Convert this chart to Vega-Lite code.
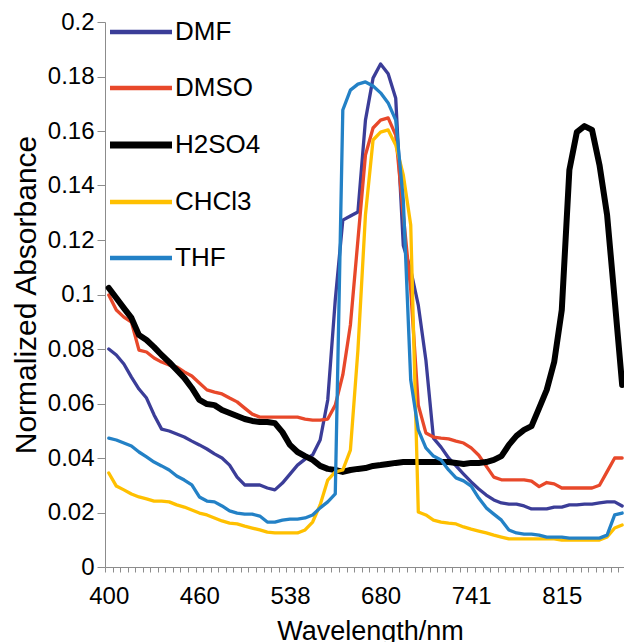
{
  "$schema": "https://vega.github.io/schema/vega-lite/v6.json",
  "width": 519,
  "height": 545,
  "autosize": {"type": "none"},
  "padding": {"left": 105, "top": 22, "right": 0, "bottom": 75},
  "config": {"view": {"stroke": null}, "font": "Liberation Sans"},
  "data": {"values": [
    {"nm": 400, "DMF": 0.080, "DMSO": 0.0998, "H2SO4": 0.1024, "CHCl3": 0.0345, "THF": 0.0473},
    {"nm": 405, "DMF": 0.0778, "DMSO": 0.0943, "H2SO4": 0.0987, "CHCl3": 0.0297, "THF": 0.0466},
    {"nm": 410, "DMF": 0.0745, "DMSO": 0.0917, "H2SO4": 0.095, "CHCl3": 0.0283, "THF": 0.0455},
    {"nm": 415, "DMF": 0.0697, "DMSO": 0.0899, "H2SO4": 0.0914, "CHCl3": 0.0268, "THF": 0.0444},
    {"nm": 420, "DMF": 0.0653, "DMSO": 0.0796, "H2SO4": 0.0851, "CHCl3": 0.0257, "THF": 0.0422},
    {"nm": 425, "DMF": 0.062, "DMSO": 0.0789, "H2SO4": 0.0833, "CHCl3": 0.025, "THF": 0.0404},
    {"nm": 430, "DMF": 0.0558, "DMSO": 0.0767, "H2SO4": 0.0807, "CHCl3": 0.0242, "THF": 0.0385},
    {"nm": 435, "DMF": 0.0506, "DMSO": 0.0752, "H2SO4": 0.0778, "CHCl3": 0.0242, "THF": 0.0371},
    {"nm": 440, "DMF": 0.0499, "DMSO": 0.0741, "H2SO4": 0.0752, "CHCl3": 0.0239, "THF": 0.0356},
    {"nm": 445, "DMF": 0.0488, "DMSO": 0.0734, "H2SO4": 0.0723, "CHCl3": 0.0228, "THF": 0.0334},
    {"nm": 450, "DMF": 0.0477, "DMSO": 0.0716, "H2SO4": 0.0694, "CHCl3": 0.022, "THF": 0.0319},
    {"nm": 455, "DMF": 0.0462, "DMSO": 0.0701, "H2SO4": 0.0657, "CHCl3": 0.0209, "THF": 0.0301},
    {"nm": 460, "DMF": 0.0448, "DMSO": 0.0675, "H2SO4": 0.0613, "CHCl3": 0.0198, "THF": 0.0257},
    {"nm": 466.5, "DMF": 0.0433, "DMSO": 0.065, "H2SO4": 0.0598, "CHCl3": 0.0191, "THF": 0.0242},
    {"nm": 473, "DMF": 0.0415, "DMSO": 0.0642, "H2SO4": 0.0594, "CHCl3": 0.018, "THF": 0.0239},
    {"nm": 479.5, "DMF": 0.04, "DMSO": 0.0635, "H2SO4": 0.0576, "CHCl3": 0.0169, "THF": 0.0224},
    {"nm": 486, "DMF": 0.0374, "DMSO": 0.062, "H2SO4": 0.0565, "CHCl3": 0.0161, "THF": 0.0206},
    {"nm": 492.5, "DMF": 0.033, "DMSO": 0.0606, "H2SO4": 0.0554, "CHCl3": 0.0158, "THF": 0.0198},
    {"nm": 499, "DMF": 0.0301, "DMSO": 0.0583, "H2SO4": 0.0543, "CHCl3": 0.015, "THF": 0.0194},
    {"nm": 505.5, "DMF": 0.0301, "DMSO": 0.0561, "H2SO4": 0.0536, "CHCl3": 0.0143, "THF": 0.0194},
    {"nm": 512, "DMF": 0.0301, "DMSO": 0.055, "H2SO4": 0.0532, "CHCl3": 0.0136, "THF": 0.0187},
    {"nm": 518.5, "DMF": 0.029, "DMSO": 0.055, "H2SO4": 0.0532, "CHCl3": 0.0128, "THF": 0.0165},
    {"nm": 525, "DMF": 0.0283, "DMSO": 0.055, "H2SO4": 0.0528, "CHCl3": 0.0125, "THF": 0.0165},
    {"nm": 531.5, "DMF": 0.0308, "DMSO": 0.055, "H2SO4": 0.0495, "CHCl3": 0.0125, "THF": 0.0172},
    {"nm": 538, "DMF": 0.0341, "DMSO": 0.055, "H2SO4": 0.0448, "CHCl3": 0.0125, "THF": 0.0176},
    {"nm": 549.8, "DMF": 0.0374, "DMSO": 0.055, "H2SO4": 0.0422, "CHCl3": 0.0125, "THF": 0.0176},
    {"nm": 561.7, "DMF": 0.0396, "DMSO": 0.0543, "H2SO4": 0.0407, "CHCl3": 0.0136, "THF": 0.018},
    {"nm": 573.5, "DMF": 0.0411, "DMSO": 0.0539, "H2SO4": 0.0393, "CHCl3": 0.0165, "THF": 0.0191},
    {"nm": 585.3, "DMF": 0.0466, "DMSO": 0.0539, "H2SO4": 0.0371, "CHCl3": 0.0228, "THF": 0.0217},
    {"nm": 597.2, "DMF": 0.0613, "DMSO": 0.0543, "H2SO4": 0.036, "CHCl3": 0.0319, "THF": 0.0239},
    {"nm": 609, "DMF": 0.098, "DMSO": 0.0594, "H2SO4": 0.0356, "CHCl3": 0.0349, "THF": 0.0268},
    {"nm": 620.8, "DMF": 0.1273, "DMSO": 0.0705, "H2SO4": 0.0349, "CHCl3": 0.0356, "THF": 0.1677},
    {"nm": 632.7, "DMF": 0.1288, "DMSO": 0.0888, "H2SO4": 0.0356, "CHCl3": 0.0429, "THF": 0.175},
    {"nm": 644.5, "DMF": 0.1303, "DMSO": 0.12, "H2SO4": 0.036, "CHCl3": 0.0796, "THF": 0.1772},
    {"nm": 656.3, "DMF": 0.164, "DMSO": 0.1512, "H2SO4": 0.0363, "CHCl3": 0.1292, "THF": 0.178},
    {"nm": 668.2, "DMF": 0.1794, "DMSO": 0.1611, "H2SO4": 0.0371, "CHCl3": 0.1567, "THF": 0.1765},
    {"nm": 680, "DMF": 0.1846, "DMSO": 0.164, "H2SO4": 0.0374, "CHCl3": 0.1596, "THF": 0.174},
    {"nm": 685.1, "DMF": 0.181, "DMSO": 0.1648, "H2SO4": 0.0378, "CHCl3": 0.1604, "THF": 0.1703},
    {"nm": 690.2, "DMF": 0.172, "DMSO": 0.1585, "H2SO4": 0.0382, "CHCl3": 0.1549, "THF": 0.164},
    {"nm": 695.3, "DMF": 0.118, "DMSO": 0.1292, "H2SO4": 0.0385, "CHCl3": 0.1439, "THF": 0.1347},
    {"nm": 700.3, "DMF": 0.109, "DMSO": 0.1017, "H2SO4": 0.0385, "CHCl3": 0.1255, "THF": 0.0686},
    {"nm": 705.4, "DMF": 0.0961, "DMSO": 0.0594, "H2SO4": 0.0385, "CHCl3": 0.0202, "THF": 0.0503},
    {"nm": 710.5, "DMF": 0.076, "DMSO": 0.0492, "H2SO4": 0.0385, "CHCl3": 0.0191, "THF": 0.0437},
    {"nm": 715.6, "DMF": 0.0473, "DMSO": 0.0477, "H2SO4": 0.0385, "CHCl3": 0.0172, "THF": 0.0407},
    {"nm": 720.7, "DMF": 0.044, "DMSO": 0.0473, "H2SO4": 0.0385, "CHCl3": 0.0165, "THF": 0.0393},
    {"nm": 725.8, "DMF": 0.04, "DMSO": 0.047, "H2SO4": 0.0385, "CHCl3": 0.0161, "THF": 0.0356},
    {"nm": 730.8, "DMF": 0.0371, "DMSO": 0.0462, "H2SO4": 0.0382, "CHCl3": 0.0158, "THF": 0.0327},
    {"nm": 735.9, "DMF": 0.0341, "DMSO": 0.0455, "H2SO4": 0.0378, "CHCl3": 0.0147, "THF": 0.0316},
    {"nm": 741, "DMF": 0.0312, "DMSO": 0.0437, "H2SO4": 0.0382, "CHCl3": 0.0139, "THF": 0.0297},
    {"nm": 747.2, "DMF": 0.0286, "DMSO": 0.041, "H2SO4": 0.0382, "CHCl3": 0.0132, "THF": 0.0253},
    {"nm": 753.3, "DMF": 0.0264, "DMSO": 0.037, "H2SO4": 0.0385, "CHCl3": 0.0125, "THF": 0.0217},
    {"nm": 759.5, "DMF": 0.0246, "DMSO": 0.033, "H2SO4": 0.0393, "CHCl3": 0.0117, "THF": 0.0194},
    {"nm": 765.7, "DMF": 0.0235, "DMSO": 0.032, "H2SO4": 0.0407, "CHCl3": 0.011, "THF": 0.0172},
    {"nm": 771.8, "DMF": 0.0231, "DMSO": 0.032, "H2SO4": 0.0448, "CHCl3": 0.0103, "THF": 0.0136},
    {"nm": 778, "DMF": 0.0231, "DMSO": 0.032, "H2SO4": 0.0481, "CHCl3": 0.0103, "THF": 0.0125},
    {"nm": 784.2, "DMF": 0.0224, "DMSO": 0.032, "H2SO4": 0.0503, "CHCl3": 0.0103, "THF": 0.0121},
    {"nm": 790.3, "DMF": 0.0213, "DMSO": 0.0315, "H2SO4": 0.0517, "CHCl3": 0.0103, "THF": 0.0121},
    {"nm": 796.5, "DMF": 0.0213, "DMSO": 0.0295, "H2SO4": 0.0583, "CHCl3": 0.0103, "THF": 0.0117},
    {"nm": 802.7, "DMF": 0.0213, "DMSO": 0.031, "H2SO4": 0.065, "CHCl3": 0.0103, "THF": 0.011},
    {"nm": 808.8, "DMF": 0.022, "DMSO": 0.0305, "H2SO4": 0.0752, "CHCl3": 0.0103, "THF": 0.011},
    {"nm": 815, "DMF": 0.022, "DMSO": 0.029, "H2SO4": 0.0943, "CHCl3": 0.0099, "THF": 0.011},
    {"nm": 821.2, "DMF": 0.0228, "DMSO": 0.029, "H2SO4": 0.1457, "CHCl3": 0.0099, "THF": 0.0106},
    {"nm": 827.3, "DMF": 0.0228, "DMSO": 0.029, "H2SO4": 0.1596, "CHCl3": 0.0099, "THF": 0.0106},
    {"nm": 833.5, "DMF": 0.0231, "DMSO": 0.029, "H2SO4": 0.1618, "CHCl3": 0.0099, "THF": 0.0106},
    {"nm": 839.7, "DMF": 0.0231, "DMSO": 0.029, "H2SO4": 0.1604, "CHCl3": 0.0099, "THF": 0.0106},
    {"nm": 845.8, "DMF": 0.0235, "DMSO": 0.03, "H2SO4": 0.1475, "CHCl3": 0.0099, "THF": 0.0106},
    {"nm": 852, "DMF": 0.0239, "DMSO": 0.035, "H2SO4": 0.1292, "CHCl3": 0.011, "THF": 0.0117},
    {"nm": 858.2, "DMF": 0.0239, "DMSO": 0.04, "H2SO4": 0.098, "CHCl3": 0.0143, "THF": 0.0191},
    {"nm": 864.3, "DMF": 0.0224, "DMSO": 0.04, "H2SO4": 0.0668, "CHCl3": 0.0154, "THF": 0.0198}
  ]},
  "transform": [{"fold": ["DMF", "DMSO", "H2SO4", "CHCl3", "THF"], "as": ["solvent", "absorbance"]}],
  "mark": {"type": "line", "strokeJoin": "round", "strokeCap": "round"},
  "encoding": {
    "x": {
      "field": "nm", "type": "quantitative",
      "scale": {"domain": [397.5, 400, 460, 538, 680, 741, 815, 865.8], "range": [0, 3.775, 94.375, 184.975, 275.575, 366.175, 456.775, 519], "nice": false, "zero": false},
      "axis": {
        "title": "Wavelength/nm",
        "values": [397.5, 400, 402.5, 407.5, 412.5, 417.5, 422.5, 427.5, 432.5, 437.5, 442.5, 447.5, 452.5, 457.5, 460, 463.25, 469.75, 476.25, 482.75, 489.25, 495.75, 502.25, 508.75, 515.25, 521.75, 528.25, 534.75, 538, 543.917, 555.75, 567.583, 579.417, 591.25, 603.083, 614.917, 626.75, 638.583, 650.417, 662.25, 674.083, 680, 682.542, 687.625, 692.708, 697.792, 702.875, 707.958, 713.042, 718.125, 723.208, 728.292, 733.375, 738.458, 741, 744.083, 750.25, 756.417, 762.583, 768.75, 774.917, 781.083, 787.25, 793.417, 799.583, 805.75, 811.917, 815, 818.083, 824.25, 830.417, 836.583, 842.75, 848.917, 855.083, 861.25],
        "labelExpr": "indexof([400,460,538,680,741,815], datum.value) >= 0 ? '' + datum.value : ''",
        "tickOpacity": {"condition": {"test": "indexof([400,460,538,680,741,815], datum.value) >= 0", "value": 0}, "value": 1},
        "labelOverlap": false, "labelFlush": false, "labelBound": false,
        "grid": false, "tickSize": 5, "tickColor": "#8c8c8c", "domainColor": "#8c8c8c",
        "labelFontSize": 24, "labelColor": "#000000", "labelPadding": 12,
        "titleFontSize": 27, "titleFontWeight": "normal", "titleColor": "#000000", "titlePadding": 10, "titleX": 265
      }
    },
    "y": {
      "field": "absorbance", "type": "quantitative",
      "scale": {"domain": [0, 0.2], "nice": false},
      "axis": {
        "title": "Normalized Absorbance",
        "values": [0, 0.02, 0.04, 0.06, 0.08, 0.1, 0.12, 0.14, 0.16, 0.18, 0.2],
        "format": ".2~f",
        "grid": false, "tickSize": 8, "tickColor": "#8c8c8c", "domainColor": "#8c8c8c",
        "labelFontSize": 24, "labelColor": "#000000", "labelPadding": 3,
        "titleFontSize": 30, "titleFontWeight": "normal", "titleColor": "#000000", "titlePadding": 6
      }
    },
    "color": {
      "field": "solvent", "type": "nominal",
      "scale": {"domain": ["DMF", "DMSO", "H2SO4", "CHCl3", "THF"], "range": ["#3b3d98", "#e8482a", "#000000", "#ffc000", "#2381c6"]},
      "legend": {
        "orient": "none", "legendX": 5, "legendY": -3, "title": null,
        "symbolType": "stroke", "symbolSize": 3844, "symbolStrokeWidth": 4.5, "symbolOffset": 18,
        "labelFontSize": 26, "labelColor": "#000000", "labelOffset": 21, "rowPadding": 30, "padding": 0,
        "encode": {"symbols": {"update": {"strokeWidth": {"signal": "datum.value === 'H2SO4' ? 7 : 4.5"}}}}
      }
    },
    "strokeWidth": {"condition": {"test": "datum.solvent === 'H2SO4'", "value": 6}, "value": 3.3}
  }
}
